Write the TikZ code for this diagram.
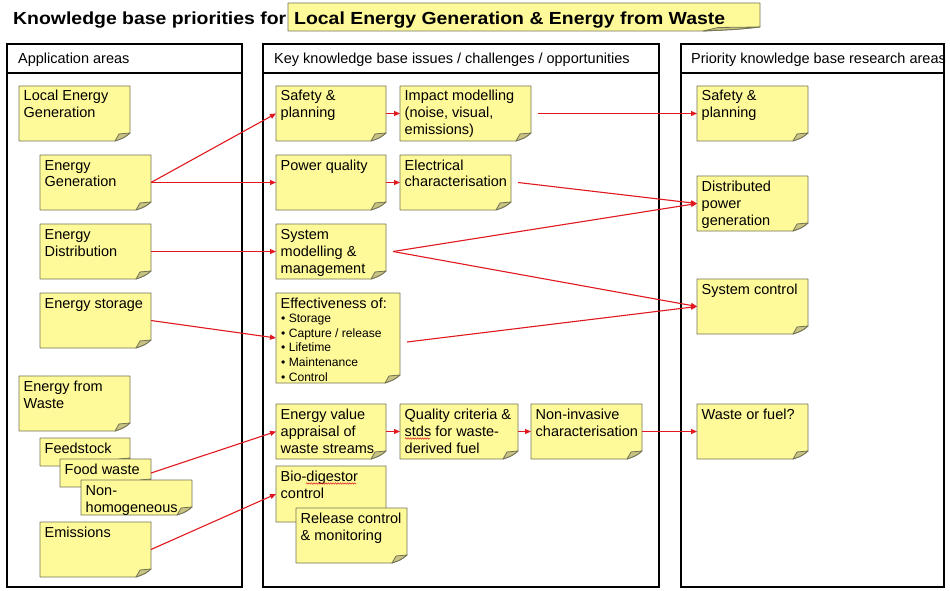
\documentclass[tikz,border=0pt]{standalone}
\usepackage{fontspec}
\setmainfont{Liberation Sans}
\usetikzlibrary{arrows.meta,calc,decorations.pathmorphing}
\definecolor{noteyel}{RGB}{255,250,153}
\definecolor{noteedge}{RGB}{115,115,85}
\definecolor{foldcol}{RGB}{200,195,130}
\definecolor{arrred}{RGB}{225,25,30}
\tikzset{
  notebase/.style={inner sep=0pt, outer sep=0pt, anchor=north west},
  noteshape/.style={fill=noteyel, draw=noteedge, line width=0.9pt, line join=round},
  foldshape/.style={fill=foldcol, draw=noteedge, line width=0.8pt, line join=round},
  notetext/.style={inner sep=0pt, anchor=base west, font=\fontsize{14.5}{17}\selectfont},
  bullettext/.style={inner sep=0pt, anchor=base west, font=\fontsize{12.1}{14.6}\selectfont},
  colbox/.style={draw=black, line width=2pt, inner sep=0pt, outer sep=0pt, anchor=north west},
  colline/.style={draw=black, line width=2pt},
  headtext/.style={inner sep=0pt, anchor=base west, font=\fontsize{14.5}{17}\selectfont},
  titletext/.style={inner sep=0pt, anchor=base west, font=\fontsize{17.5}{20}\selectfont\bfseries},
  link/.style={draw=arrred, line width=1.1pt, -{Triangle[length=6pt,width=5pt]}},
  squiggle/.style={draw=arrred, line width=0.5pt, decorate, decoration={snake, amplitude=0.7pt, segment length=2.4pt}},
}
\newcommand\tl[1]{\begin{tabular}[t]{@{}l@{}}#1\end{tabular}}
% draw the folded-note outline round an existing node: name, fold dx, fold dy
\newcommand\drawnote[3]{%
  \path[noteshape] (#1.north west) -- (#1.north east) -- ([yshift=#3pt]#1.south east)
     .. controls ([xshift={-0.4*#2pt},yshift={0.4*#3pt}]#1.south east) .. ([xshift=-#2pt]#1.south east)
     -- (#1.south west) -- cycle;
  \path[foldshape] ([xshift=-#2pt]#1.south east)
     .. controls ([xshift={-0.85*#2pt},yshift={0.5*#3pt}]#1.south east) .. ([xshift={-0.73*#2pt},yshift={0.88*#3pt}]#1.south east)
     -- ([yshift=#3pt]#1.south east)
     .. controls ([xshift={-0.4*#2pt},yshift={0.4*#3pt}]#1.south east) .. ([xshift=-#2pt]#1.south east) -- cycle;
}
% name, x, y, w, h, text
\newcommand\note[6]{%
  \node[notebase, minimum width=#4pt, minimum height=#5pt] (#1) at (#2,#3) {};
  \drawnote{#1}{15}{8}
  \node[notetext] (#1-t) at ([xshift=4.5pt,yshift=-15pt]#1.north west) {\tl{#6}};
}
\begin{document}
\begin{tikzpicture}[x=1pt,y=-1pt]
\useasboundingbox (0,0) rectangle (950,591);
\fill[white] (0,0) rectangle (950,591);

% title
\node[titletext] (title) at (13,25) {\scalebox{1.11}[1]{Knowledge base priorities for}};
\node[notebase, minimum width=472pt, minimum height=28pt] (hl) at (288,3) {};
\drawnote{hl}{57}{4}
\node[titletext] (hl-t) at (294,25) {\scalebox{1.11}[1]{Local Energy Generation \& Energy from Waste}};

% columns
\node[colbox, minimum width=235pt, minimum height=543pt] (col1) at (7,44) {};
\node[colbox, minimum width=396pt, minimum height=543pt] (col2) at (263,44) {};
\node[colbox, minimum width=263pt, minimum height=543pt] (col3) at (681,44) {};
\draw[colline] ([yshift=-29pt]col1.north west) -- ([yshift=-29pt]col1.north east);
\draw[colline] ([yshift=-29pt]col2.north west) -- ([yshift=-29pt]col2.north east);
\draw[colline] ([yshift=-29pt]col3.north west) -- ([yshift=-29pt]col3.north east);
\node[headtext] (h1) at (18,64) {Application areas};
\node[headtext] (h2) at (274,64) {Key knowledge base issues / challenges / opportunities};
\node[headtext] (h3) at (691,64) {Priority knowledge base research areas};

% column 1
\note{leg}{19}{86}{111}{55}{Local Energy\\Generation}
\note{eg}{40}{155}{111}{55}{Energy\\Generation}
\note{ed}{40}{224}{111}{55}{Energy\\Distribution}
\note{es}{40}{293}{111}{55}{Energy storage}
\note{efw}{19}{376}{111}{55}{Energy from\\Waste}
\note{feed}{40}{438}{90}{28}{Feedstock}
\note{food}{60}{459}{91}{28}{Food waste}
\note{nonh}{81}{480}{111}{35}{Non-\\homogeneous}
\note{em}{40}{522}{111}{55}{Emissions}

% column 2
\note{sp}{276}{86}{110}{55}{Safety \&\\planning}
\note{im}{400}{86}{131}{55}{Impact modelling\\(noise, visual,\\emissions)}
\note{pq}{276}{155}{110}{55}{Power quality}
\note{ec}{400}{155}{111}{55}{Electrical\\characterisation}
\note{sm}{276}{224}{110}{55}{System\\modelling \&\\management}
\note{eff}{276}{293}{124}{90}{Effectiveness of:}
\node[bullettext] (eff-b) at (281,322.7) {\tl{• Storage\\• Capture / release\\• Lifetime\\• Maintenance\\• Control}};
\note{ev}{276}{404}{110}{55}{Energy value\\appraisal of\\waste streams}
\note{qc}{400}{404}{118}{55}{Quality criteria \&\\stds for waste-\\derived fuel}
\note{ni}{531}{404}{111}{55}{Non-invasive\\characterisation}
\note{bd}{276}{466}{110}{56}{Bio-digestor\\control}
\note{rc}{296}{508}{111}{55}{Release control\\\& monitoring}

% spell-check marks
\draw[squiggle] (405,438.5) -- (430,438.5);
\draw[squiggle] (306,483.5) -- (356,483.5);

% column 3
\note{sp3}{697}{86}{111}{55}{Safety \&\\planning}
\note{dpg}{697}{176}{111}{55}{Distributed\\power\\generation}
\note{sc}{697}{279}{111}{55}{System control}
\note{wf}{697}{404}{111}{55}{Waste or fuel?}

% connectors
\draw[link] (eg.east) -- (sp.west);
\draw[link] (eg.east) -- (pq.west);
\draw[link] (ed.east) -- (sm.west);
\draw[link] (es.east) -- (eff.west);
\draw[link] (food.east) -- (ev.west);
\draw[link] (em.east) -- (bd.west);
\draw[link] (sp.east) -- (im.west);
\draw[link] (pq.east) -- (ec.west);
\draw[link] ([xshift=7pt]im.east) -- (sp3.west);
\draw[link] ([xshift=7pt]ec.east) -- (dpg.west);
\draw[link] ([xshift=7pt]sm.east) -- (dpg.west);
\draw[link] ([xshift=7pt]sm.east) -- (sc.west);
\draw[link] ([xshift=7pt,yshift=-4pt]eff.east) -- (sc.west);
\draw[link] (ev.east) -- (qc.west);
\draw[link] (qc.east) -- (ni.west);
\draw[link] (ni.east) -- (wf.west);
\end{tikzpicture}
\end{document}
